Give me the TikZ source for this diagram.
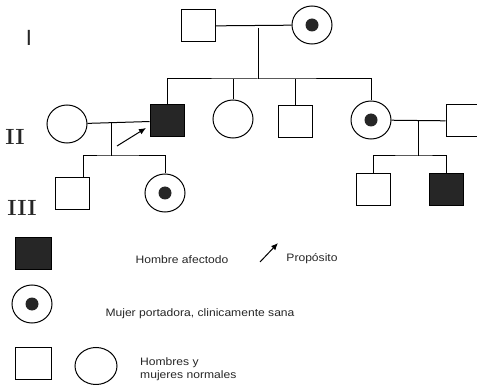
\documentclass[tikz,border=0pt]{standalone}
\usepackage{fontspec}
\setsansfont{Liberation Sans}
\newfontfamily\legendfont[FakeStretch=1.12]{Liberation Sans}
\usetikzlibrary{shapes.geometric,arrows.meta}

\tikzstyle{male}=[rectangle,draw,line width=1pt,minimum width=34pt,minimum height=32pt,inner sep=0pt]
\tikzstyle{female}=[ellipse,draw,line width=1pt,minimum width=40pt,minimum height=38pt,inner sep=0pt]
\tikzstyle{affected}=[fill=black!85]
\tikzstyle{carrier}=[path picture={\fill[black!85] (path picture bounding box.center) circle (6.5pt);}]
\tikzstyle{gen}=[font=\bfseries\fontsize{22}{22}\selectfont,inner sep=0pt,text=black!85]
\tikzstyle{legend}=[font=\legendfont\fontsize{10.8}{13.5}\selectfont,align=left,inner sep=0pt,text=black!85]
\tikzstyle{line}=[line width=1pt]

\begin{document}
\begin{tikzpicture}[x=1pt,y=-1pt]
        \useasboundingbox (0,0) rectangle (477,385);
        \draw (29,38) node[gen,font=\sffamily\fontsize{22}{22}\selectfont](g1){I};
        \draw (15,137) node[gen](g2){II};
        \draw (22,208) node[gen](g3){III};
        % generation I
        \draw (198,26) node[male](i1){};
        \draw (312,25) node[female,carrier](i2){};
        % generation II
        \draw (67,124) node[female](ii1){};
        \draw (167,121) node[male,affected](ii2){};
        \draw (233,119) node[female](ii3){};
        \draw (295,122) node[male](ii4){};
        \draw (371,120) node[female,carrier](ii5){};
        \draw (463,121) node[male](ii6){};
        % generation III
        \draw (72,194) node[male](iii1){};
        \draw (165,193) node[female,carrier](iii2){};
        \draw (373,190) node[male](iii3){};
        \draw (446,190) node[male,affected](iii4){};
        %
        \coordinate (m1) at (258,28);
        \coordinate (s1) at (258,79);
        \coordinate (m2) at (111,123);
        \coordinate (s2) at (111,156);
        \coordinate (m3) at (418,121);
        \coordinate (s3) at (418,156);
        \path[line]
            (i1)    edge    (i2)
            (m1)    edge    (s1)
            (ii1)   edge    (ii2)
            (m2)    edge    (s2)
            (ii5)   edge    (ii6)
            (m3)    edge    (s3)
        ;
        \draw[line] (ii2.north) |- (s1) -| (ii5.north);
        \draw[line] (ii3.north) -- (ii3.north |- s1);
        \draw[line] (ii4.north) -- (ii4.north |- s1);
        \draw[line] (83,178) |- (s2) -| (iii2.north);
        \draw[line] (iii3.north) |- (s3) -| (iii4.north);
        \coordinate (p0) at (117,146);
        \coordinate (p1) at (146,128);
        \draw[line,-{Latex[length=7pt,width=6pt]}] (p0) -- (p1);
        % legend
        \draw (33,253) node[male,minimum height=32pt,minimum width=36pt,affected](la){};
        \draw (182,260) node[legend](ta){Hombre afectodo};
        \coordinate (q0) at (260,262);
        \coordinate (q1) at (278,243);
        \draw[line,-{Latex[length=7pt,width=6pt]}] (q0) -- (q1);
        \draw (312,259) node[legend](tp){Propósito};
        \draw (32,304) node[female,carrier](lc){};
        \draw (200,314) node[legend](tc){Mujer portadora, clinicamente sana};
        \draw (33,363) node[male,minimum width=36pt](lm){};
        \draw (96,366) node[female,minimum width=42pt,minimum height=37pt](lf){};
        \draw (140,369) node[legend,anchor=west](tn){Hombres y\\mujeres normales};
      \end{tikzpicture}
\end{document}
